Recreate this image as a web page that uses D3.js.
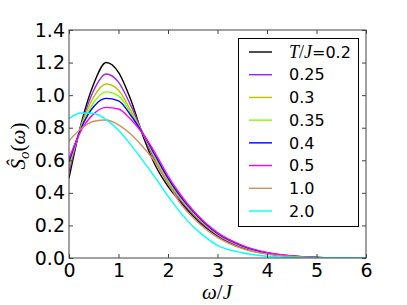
<!DOCTYPE html>
<html>
<head>
<meta charset="utf-8">
<script src="https://cdn.jsdelivr.net/npm/d3@7"></script>
<style>
  body { margin: 0; background: #fff; }
  text { font-family: "DejaVu Sans", sans-serif; fill: #000; }
  .math { font-family: "Liberation Serif", "DejaVu Serif", serif; }
</style>
</head>
<body>
<div id="chart-area"></div>
<script>
// SVG size
var width = 407,
    height = 305;

var margin = {left: 69, right: 41, top: 30, bottom: 47};

// Data
var omega = [0, 0.25, 0.5, 0.75, 1.0, 1.25, 1.5, 1.75, 2.0, 2.25, 2.5, 2.75, 3.0, 3.5, 4.0, 4.5, 5.0, 5.5, 6.0];

var temps  = ["0.2", "0.25", "0.3", "0.35", "0.4", "0.5", "1.0", "2.0"];
var colors = ["#000000", "#a020f0", "#bfbf00", "#7fff00", "#0000ff", "#ff00ff", "#d2905a", "#00ffff"];

var sT02  = [0.49, 0.83, 1.07, 1.20, 1.14, 0.97, 0.745, 0.565, 0.44, 0.345, 0.26, 0.19, 0.135, 0.063, 0.027, 0.010, 0.003, 0.001, 0];
var sT025 = [0.53, 0.82, 1.03, 1.13, 1.08, 0.935, 0.76, 0.59, 0.46, 0.355, 0.27, 0.198, 0.14, 0.066, 0.028, 0.010, 0.003, 0.001, 0];
var sT03  = [0.555, 0.815, 0.99, 1.068, 1.03, 0.905, 0.76, 0.605, 0.47, 0.365, 0.278, 0.204, 0.145, 0.070, 0.030, 0.011, 0.004, 0.001, 0];
var sT035 = [0.575, 0.805, 0.955, 1.02, 0.995, 0.89, 0.76, 0.615, 0.48, 0.372, 0.283, 0.208, 0.148, 0.073, 0.031, 0.012, 0.004, 0.001, 0];
var sT04  = [0.59, 0.80, 0.93, 0.98, 0.965, 0.875, 0.76, 0.625, 0.49, 0.378, 0.288, 0.212, 0.151, 0.075, 0.032, 0.012, 0.004, 0.001, 0];
var sT05  = [0.61, 0.785, 0.885, 0.925, 0.915, 0.85, 0.76, 0.64, 0.505, 0.39, 0.295, 0.218, 0.156, 0.078, 0.034, 0.013, 0.004, 0.001, 0];
var sT10  = [0.72, 0.795, 0.84, 0.847, 0.818, 0.76, 0.68, 0.585, 0.46, 0.335, 0.25, 0.18, 0.127, 0.058, 0.024, 0.009, 0.003, 0.001, 0];
var sT20  = [0.857, 0.89, 0.887, 0.85, 0.785, 0.695, 0.595, 0.49, 0.38, 0.28, 0.195, 0.13, 0.078, 0.032, 0.011, 0.004, 0.001, 0.0005, 0];

var series = [sT02, sT025, sT03, sT035, sT04, sT05, sT10, sT20];

var xTicks = [0, 1, 2, 3, 4, 5, 6];
var yTicks = [0.0, 0.2, 0.4, 0.6, 0.8, 1.0, 1.2, 1.4];

var svg = d3.select("#chart-area")
    .append("svg")
    .attr("width", width)
    .attr("height", height);

svg.append("rect")
    .attr("width", width)
    .attr("height", height)
    .attr("fill", "#fff");

// Scales
var x = d3.scaleLinear()
    .domain([0, 6])
    .range([margin.left, width - margin.right]);

var y = d3.scaleLinear()
    .domain([0, 1.4])
    .range([height - margin.bottom, margin.top]);

svg.append("clipPath")
    .attr("id", "plot-clip")
    .append("rect")
    .attr("x", x(0))
    .attr("y", y(1.4))
    .attr("width", x(6) - x(0))
    .attr("height", y(0) - y(1.4));

// Curves
var line = d3.line()
    .x((d, i) => x(omega[i]))
    .y(d => y(d))
    .curve(d3.curveMonotoneX);

svg.append("g")
    .attr("clip-path", "url(#plot-clip)")
    .selectAll("path")
    .data(series)
    .enter()
    .append("path")
    .attr("d", d => line(d))
    .attr("fill", "none")
    .attr("stroke", (d, i) => colors[i])
    .attr("stroke-width", 1.4);

// Axes: inward ticks on all four sides
var axisColor = "#444";

var xAxis = d3.axisBottom(x).tickValues(xTicks).tickFormat(d3.format("d"))
    .tickSizeInner(-4).tickSizeOuter(0).tickPadding(6);
var xAxisTop = d3.axisTop(x).tickValues(xTicks).tickFormat("")
    .tickSizeInner(-4).tickSizeOuter(0);
var yAxis = d3.axisLeft(y).tickValues(yTicks).tickFormat(d3.format(".1f"))
    .tickSizeInner(-4).tickSizeOuter(0).tickPadding(4);
var yAxisRight = d3.axisRight(y).tickValues(yTicks).tickFormat("")
    .tickSizeInner(-4).tickSizeOuter(0);

function styleAxis(g) {
    g.select(".domain").remove();
    g.selectAll(".tick line").attr("stroke", axisColor);
    g.selectAll(".tick text")
        .attr("fill", "#000")
        .style("font-family", "'DejaVu Sans', sans-serif")
        .style("font-size", "19px");
}

svg.append("g")
    .attr("transform", "translate(0," + y(0) + ")")
    .call(xAxis).call(styleAxis);
svg.append("g")
    .attr("transform", "translate(0," + y(1.4) + ")")
    .call(xAxisTop).call(styleAxis);
svg.append("g")
    .attr("transform", "translate(" + x(0) + ",0)")
    .call(yAxis).call(styleAxis);
svg.append("g")
    .attr("transform", "translate(" + x(6) + ",0)")
    .call(yAxisRight).call(styleAxis);

// frame
svg.append("rect")
    .attr("x", x(0))
    .attr("y", y(1.4))
    .attr("width", x(6) - x(0))
    .attr("height", y(0) - y(1.4))
    .attr("fill", "none")
    .attr("stroke", axisColor)
    .attr("stroke-width", 1);

// Axis labels (math-style serif italics)
var xl = svg.append("text")
    .attr("class", "math")
    .attr("text-anchor", "middle")
    .attr("x", 217)
    .attr("y", 299)
    .style("font-size", "21px");
xl.append("tspan").attr("font-style", "italic").text("ω");
xl.append("tspan").text("/");
xl.append("tspan").attr("font-style", "italic").text("J");

var yl = svg.append("text")
    .attr("class", "math")
    .attr("text-anchor", "middle")
    .attr("transform", "translate(25,146)rotate(-90)")
    .style("font-size", "21px");
yl.append("tspan").attr("font-style", "italic").text("Ŝ");
yl.append("tspan").attr("font-style", "italic").attr("dy", 4).style("font-size", "15px").text("o");
yl.append("tspan").attr("dy", -4).text("(");
yl.append("tspan").attr("font-style", "italic").text("ω");
yl.append("tspan").text(")");

// Legend
var legend = svg.append("g");

legend.append("rect")
    .attr("x", 238.5)
    .attr("y", 38.5)
    .attr("width", 120)
    .attr("height", 188)
    .attr("fill", "#fff")
    .attr("stroke", "#000")
    .attr("stroke-width", 1);

var rowY = d3.scaleLinear().domain([0, 7]).range([52, 211]);

var rows = legend.selectAll("g.row")
    .data(temps)
    .enter()
    .append("g")
    .attr("class", "row")
    .attr("transform", (d, i) => "translate(0," + rowY(i) + ")");

rows.append("line")
    .attr("x1", 249)
    .attr("x2", 272)
    .attr("stroke", (d, i) => colors[i])
    .attr("stroke-width", 1.4);

rows.append("text")
    .attr("x", 289)
    .attr("dy", "0.36em")
    .style("font-size", "16px")
    .each(function(d, i) {
        var t = d3.select(this);
        if (i === 0) {
            t.append("tspan").attr("class", "math").attr("font-style", "italic").style("font-size", "18px").text("T");
            t.append("tspan").attr("class", "math").style("font-size", "18px").text("/");
            t.append("tspan").attr("class", "math").attr("font-style", "italic").style("font-size", "18px").text("J");
            t.append("tspan").text("=" + d);
        } else {
            t.text(d);
        }
    });
</script>
</body>
</html>
